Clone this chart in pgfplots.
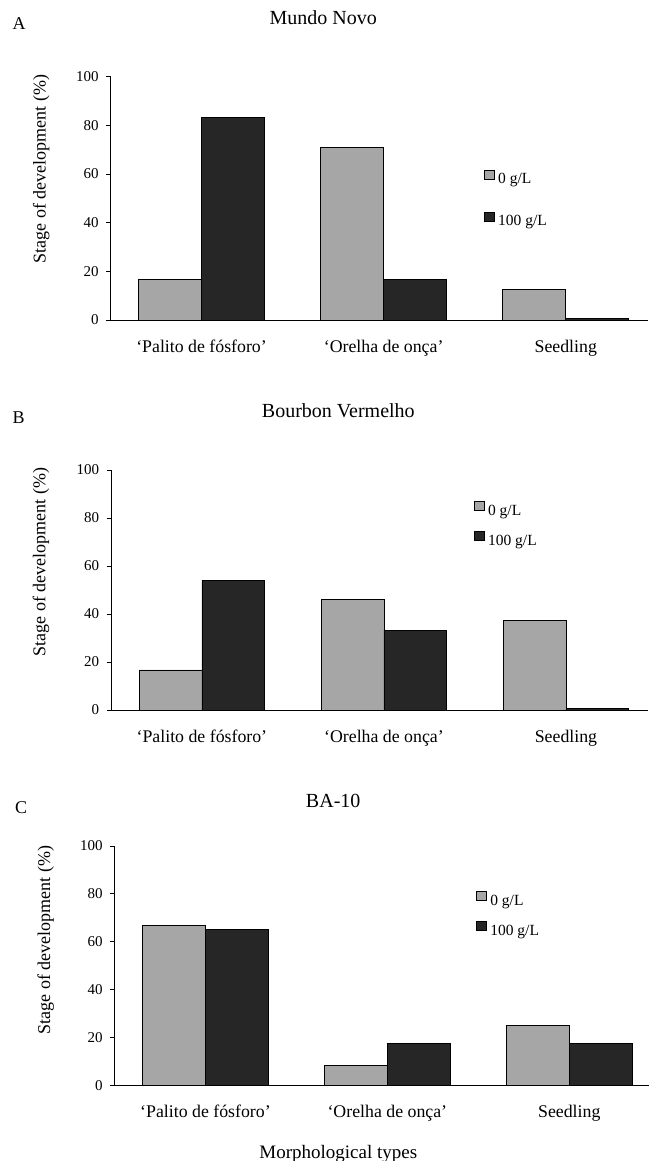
\documentclass[border=0pt]{standalone}
\usepackage{pgfplots}
\pgfplotsset{compat=1.18}
\usepackage{fontspec}
\setmainfont{Liberation Serif}
\definecolor{barlight}{HTML}{A6A6A6}
\definecolor{bardark}{HTML}{262626}

\pgfplotsset{
  panel/.style={
    scale only axis, anchor=south west, clip=false,
    xmin=-0.5, xmax=2.45, ymin=0, ymax=100,
    ybar=0pt, bar width=62.9bp,
    axis x line=bottom, axis y line=left,
    axis line style={-, line width=0.8bp, black},
    xtick={0,1,2},
    xticklabels={{‘Palito de fósforo’},{‘Orelha de onça’},{Seedling}},
    xtick style={draw=none},
    ytick={0,20,40,60,80,100},
    ytick style={line width=0.8bp, black},
    tick align=outside, major tick length=4bp,
    /pgf/number format/assume math mode=true,
    y tick label style={font=\fontsize{15bp}{18bp}\selectfont, xshift=-4.3bp},
    x tick label style={font=\fontsize{17.8bp}{21bp}\selectfont, anchor=base, yshift=-28bp},
    title style={anchor=base, inner sep=0pt, font=\fontsize{20bp}{24bp}\selectfont},
    legend style={draw=none, fill=none, anchor=north west, inner sep=0pt, outer sep=0pt,
      column sep=3.5bp, font=\fontsize{15.5bp}{18bp}\selectfont,
      nodes={inner sep=0pt, text height=12bp, text depth=4bp}},
    legend cell align=left,
  },
  lightbar/.style={fill=barlight, draw=black, line width=0.8bp,
    legend image code/.code={\draw[fill=barlight,draw=black,line width=0.7bp] (0bp,0.5bp) rectangle (10bp,9.5bp);}},
  darkbar/.style={fill=bardark, draw=black, line width=0.8bp,
    legend image code/.code={\draw[fill=bardark,draw=black,line width=0.7bp] (0bp,0.5bp) rectangle (10bp,9.5bp);}},
  ylab/.style={every axis y label/.style={at={(axis description cs:#1)}, rotate=90, anchor=center,
      font=\fontsize{18bp}{22bp}\selectfont}},
}

\begin{document}
\begin{tikzpicture}
\useasboundingbox (0,0) rectangle (649bp,-1161bp);

% Panel A
\begin{axis}[panel, at={(110.5bp,-320bp)}, width=537.2bp, height=243.5bp,
  title={Mundo Novo}, title style={at={(axis description cs:0.396,1.191)}},
  ylabel={Stage of development (\%)}, ylab={-0.129,0.62},
  legend style={at={(axis description cs:0.6953,0.617)}, row sep=24bp}]
\addplot[lightbar] coordinates {(0,16.7) (1,70.8) (2,12.5)};
\addplot[darkbar] coordinates {(0,83.3) (1,16.7) (2,0.5)};
\legend{0 g/L, 100 g/L}
\node[anchor=base west, inner sep=0pt, font=\fontsize{18bp}{22bp}\selectfont] at (axis description cs:-0.1826,1.191) {A};
\end{axis}

% Panel B
\begin{axis}[panel, at={(110.9bp,-710bp)}, width=537bp, height=240bp,
  title={Bourbon Vermelho}, title style={at={(axis description cs:0.4235,1.195)}},
  ylabel={Stage of development (\%)}, ylab={-0.13,0.617},
  legend style={at={(axis description cs:0.676,0.870)}, row sep=12.3bp}]
\addplot[lightbar] coordinates {(0,16.7) (1,46.0) (2,37.5)};
\addplot[darkbar] coordinates {(0,54.0) (1,33.3) (2,0.5)};
\legend{0 g/L, 100 g/L}
\node[anchor=base west, inner sep=0pt, font=\fontsize{18bp}{22bp}\selectfont] at (axis description cs:-0.1834,1.195) {B};
\end{axis}

% Panel C
\begin{axis}[panel, at={(114.5bp,-1085.3bp)}, width=536.6bp, height=239.3bp,
  title={BA-10}, title style={at={(axis description cs:0.4076,1.137)}},
  ylabel={Stage of development (\%)}, ylab={-0.128,0.607},
  xlabel={Morphological types},
  xlabel style={at={(axis description cs:0.417,-0.304)}, anchor=base, inner sep=0pt,
    font=\fontsize{19bp}{22bp}\selectfont},
  legend style={at={(axis description cs:0.674,0.811)}, row sep=12.3bp}]
\addplot[lightbar] coordinates {(0,66.7) (1,8.3) (2,25.0)};
\addplot[darkbar] coordinates {(0,65.2) (1,17.4) (2,17.4)};
\legend{0 g/L, 100 g/L}
\node[anchor=base west, inner sep=0pt, font=\fontsize{18bp}{22bp}\selectfont] at (axis description cs:-0.1854,1.137) {C};
\end{axis}
\end{tikzpicture}
\end{document}
